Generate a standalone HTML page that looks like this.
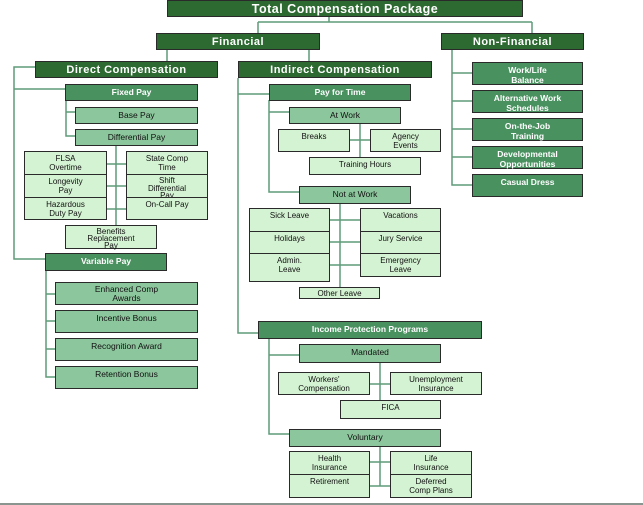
<!DOCTYPE html>
<html><head><meta charset="utf-8"><style>
body{margin:0;background:#fff;width:643px;height:505px;position:relative;overflow:hidden;font-family:"Liberation Sans",Arial,sans-serif}
.b{position:absolute;box-sizing:border-box;border:1px solid #2a2a2a;text-align:center;font-size:8px;line-height:9px;color:#111;padding-top:2px}
.d{background:#2d6a31;color:#fff;font-weight:bold;font-size:11px;line-height:14px;padding-top:1px;letter-spacing:.5px}
.m{background:#4a9160;color:#fff;font-weight:bold;font-size:8.5px;line-height:10px}
.l{background:#8cc69c;font-size:8.5px;line-height:11px}
.p{background:#d4f3d2}
svg{position:absolute;left:0;top:0}
</style></head><body>
<svg width="643" height="505">
<g stroke="#5f9c78" stroke-width="1.5" fill="none">
<path d="M329 16V22M258 22H532M258 22V33M532 22V33"/>
<path d="M167 50V61M309 50V61"/>
<path d="M35 67H14V259H45M14 89H65"/>
<path d="M66 100V136H75M66 112H75"/>
<path d="M116 146V225M107 164H126M107 186H126M107 209H126"/>
<path d="M46 270V377H55M46 294H55M46 321H55M46 349H55"/>
<path d="M238 78V333H258M238 94H269"/>
<path d="M269 100V192H299M269 112H289"/>
<path d="M360 123V157M350 140H370"/>
<path d="M340 203V287M330 220H360M330 242H360M330 265H360"/>
<path d="M269 338V434H289M269 355H299"/>
<path d="M380 362V400M370 384H390"/>
<path d="M380 446V486M370 462H390M370 486H390"/>
<path d="M452 50V185H472M452 73H472M452 101H472M452 129H472M452 157H472"/>
</g>
<line x1="0" y1="504" x2="643" y2="504" stroke="#8a9590" stroke-width="2"/>
</svg>
<div class="b d" style="left:167px;top:0;width:356px;height:17px;font-size:12.5px">Total Compensation Package</div>
<div class="b d" style="left:156px;top:33px;width:164px;height:17px">Financial</div>
<div class="b d" style="left:441px;top:33px;width:143px;height:17px">Non-Financial</div>
<div class="b d" style="left:35px;top:61px;width:183px;height:17px">Direct Compensation</div>
<div class="b d" style="left:238px;top:61px;width:194px;height:17px">Indirect Compensation</div>

<div class="b m" style="left:65px;top:84px;width:133px;height:17px">Fixed Pay</div>
<div class="b l" style="left:75px;top:107px;width:123px;height:17px">Base Pay</div>
<div class="b l" style="left:75px;top:129px;width:123px;height:17px">Differential Pay</div>
<div class="b p" style="left:24px;top:151px;width:83px;height:24px">FLSA<br>Overtime</div>
<div class="b p" style="left:24px;top:174px;width:83px;height:24px">Longevity<br>Pay</div>
<div class="b p" style="left:24px;top:197px;width:83px;height:23px">Hazardous<br>Duty Pay</div>
<div class="b p" style="left:126px;top:151px;width:82px;height:24px">State Comp<br>Time</div>
<div class="b p" style="left:126px;top:174px;width:82px;height:24px;line-height:7.5px">Shift<br>Differential<br>Pay</div>
<div class="b p" style="left:126px;top:197px;width:82px;height:23px">On-Call Pay</div>
<div class="b p" style="left:65px;top:225px;width:92px;height:24px;line-height:7px">Benefits<br>Replacement<br>Pay</div>
<div class="b m" style="left:45px;top:253px;width:122px;height:18px">Variable Pay</div>
<div class="b l" style="left:55px;top:282px;width:143px;height:23px;line-height:9px">Enhanced Comp<br>Awards</div>
<div class="b l" style="left:55px;top:310px;width:143px;height:23px">Incentive Bonus</div>
<div class="b l" style="left:55px;top:338px;width:143px;height:23px">Recognition Award</div>
<div class="b l" style="left:55px;top:366px;width:143px;height:23px">Retention Bonus</div>

<div class="b m" style="left:269px;top:84px;width:142px;height:17px">Pay for Time</div>
<div class="b l" style="left:289px;top:107px;width:112px;height:17px">At Work</div>
<div class="b p" style="left:278px;top:129px;width:72px;height:23px">Breaks</div>
<div class="b p" style="left:370px;top:129px;width:71px;height:23px">Agency<br>Events</div>
<div class="b p" style="left:309px;top:157px;width:112px;height:18px">Training Hours</div>
<div class="b l" style="left:299px;top:186px;width:112px;height:18px">Not at Work</div>
<div class="b p" style="left:249px;top:208px;width:81px;height:24px">Sick Leave</div>
<div class="b p" style="left:249px;top:231px;width:81px;height:23px">Holidays</div>
<div class="b p" style="left:249px;top:253px;width:81px;height:29px">Admin.<br>Leave</div>
<div class="b p" style="left:360px;top:208px;width:81px;height:24px">Vacations</div>
<div class="b p" style="left:360px;top:231px;width:81px;height:23px">Jury Service</div>
<div class="b p" style="left:360px;top:253px;width:81px;height:24px">Emergency<br>Leave</div>
<div class="b p" style="left:299px;top:287px;width:81px;height:12px;padding-top:1px">Other Leave</div>

<div class="b m" style="left:258px;top:321px;width:224px;height:18px">Income Protection Programs</div>
<div class="b l" style="left:299px;top:344px;width:142px;height:19px">Mandated</div>
<div class="b p" style="left:278px;top:372px;width:92px;height:23px">Workers'<br>Compensation</div>
<div class="b p" style="left:390px;top:372px;width:92px;height:23px">Unemployment<br>Insurance</div>
<div class="b p" style="left:340px;top:400px;width:101px;height:19px">FICA</div>
<div class="b l" style="left:289px;top:429px;width:152px;height:18px">Voluntary</div>
<div class="b p" style="left:289px;top:451px;width:81px;height:24px">Health<br>Insurance</div>
<div class="b p" style="left:289px;top:474px;width:81px;height:24px">Retirement</div>
<div class="b p" style="left:390px;top:451px;width:82px;height:24px">Life<br>Insurance</div>
<div class="b p" style="left:390px;top:474px;width:82px;height:24px">Deferred<br>Comp Plans</div>

<div class="b m" style="left:472px;top:62px;width:111px;height:23px">Work/Life<br>Balance</div>
<div class="b m" style="left:472px;top:90px;width:111px;height:23px">Alternative Work<br>Schedules</div>
<div class="b m" style="left:472px;top:118px;width:111px;height:23px">On-the-Job<br>Training</div>
<div class="b m" style="left:472px;top:146px;width:111px;height:23px">Developmental<br>Opportunities</div>
<div class="b m" style="left:472px;top:174px;width:111px;height:23px">Casual Dress</div>
</body></html>
